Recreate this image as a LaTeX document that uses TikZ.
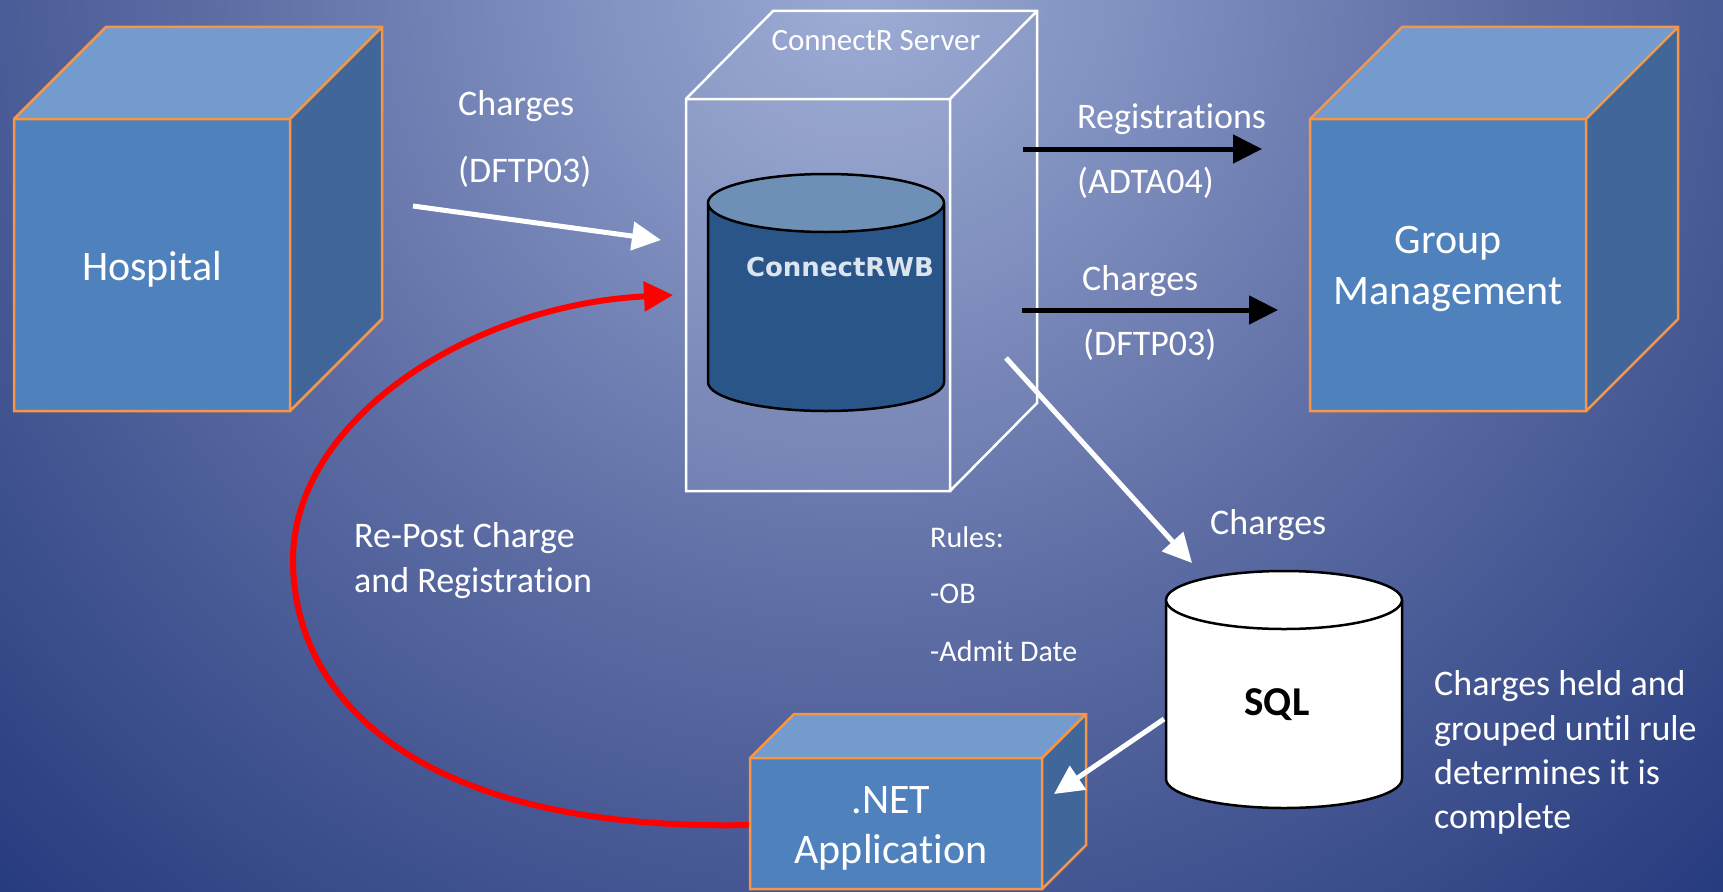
\documentclass[tikz,border=0pt]{standalone}
\usepackage{fontspec}
\setmainfont{Carlito}[Ligatures=NoCommon]
\newfontfamily\verdfont{DejaVu Sans}
\usetikzlibrary{arrows.meta}
\definecolor{bgA}{HTML}{9AAAD4}
\definecolor{bgB}{HTML}{5868A0}
\definecolor{bgC}{HTML}{273C7F}
\definecolor{cubefront}{HTML}{4F81BD}
\definecolor{cubetop}{HTML}{739BCD}
\definecolor{cubeside}{HTML}{41679A}
\definecolor{cubeedge}{HTML}{F79646}
\definecolor{dbbody}{HTML}{2A5589}
\definecolor{dbtop}{HTML}{6F90B6}
\definecolor{dbtext}{HTML}{DCE4F0}
\pgfdeclareradialshading{bgshade}{\pgfpoint{0bp}{0bp}}{color(0bp)=(bgA); color(13.5bp)=(bgB); color(24bp)=(bgC); color(25bp)=(bgC); color(50bp)=(bgC)}
\newcommand\cubeshape[5]{%
  \fill[cubefront] (#1,#2) rectangle (#3,#4);
  \fill[cubetop] (#1,#2) -- ({#1+#5},{#2-#5}) -- ({#3+#5},{#2-#5}) -- (#3,#2) -- cycle;
  \fill[cubeside] (#3,#2) -- ({#3+#5},{#2-#5}) -- ({#3+#5},{#4-#5}) -- (#3,#4) -- cycle;
  \draw[cubeline] (#1,#2) rectangle (#3,#4)
    (#1,#2) -- ({#1+#5},{#2-#5}) -- ({#3+#5},{#2-#5}) -- ({#3+#5},{#4-#5}) -- (#3,#4)
    (#3,#2) -- ({#3+#5},{#2-#5});
}
\tikzset{
  cubeline/.style={draw=cubeedge, line width=2.5pt, line join=miter},
  serverline/.style={draw=white, line width=2.5pt, line join=miter},
  lbl/.style={text=white, inner sep=0pt, font=\fontsize{36}{43}\selectfont},
  biglbl/.style={text=white, inner sep=0pt, font=\fontsize{42}{51}\selectfont},
  rulelbl/.style={text=white, inner sep=0pt, font=\fontsize{30}{36}\selectfont},
  whitearrow/.style={draw=white, line width=5pt, -{Triangle[length=29pt,width=28pt]}},
  blackarrow/.style={draw=black, line width=5pt, -{Triangle[length=29pt,width=28pt]}},
  redarrow/.style={draw=red, line width=6pt, -{Triangle[length=29pt,width=29pt]}},
  dbline/.style={draw=black, line width=2.5pt},
}
\begin{document}
\begin{tikzpicture}[x=1pt,y=-1pt]
\useasboundingbox (0,0) rectangle (1723,891);
% background
\begin{scope}
  \clip (0,0) rectangle (1723,891);
  \shade[shading=bgshade] (-440,-1320) rectangle (2160,1280);
\end{scope}

% red re-post curve (drawn before .NET cube)
\coordinate (redS) at (750,825);
\coordinate (redE) at (673,295);
\draw[redarrow] (redS) .. controls (420,832) and (293,700) .. (293,560)
  .. controls (293,420) and (470,305) .. (redE);

% Hospital cube
\cubeshape{14}{119}{290}{411}{92}
\node[biglbl, anchor=base] (hospital) at (152,280) {Hospital};

% Group Management cube
\cubeshape{1310}{119}{1586}{411}{92}
\node[biglbl, anchor=base] (group1) at (1448,253) {Group};
\node[biglbl, anchor=base] (group2) at (1448,304) {Management};

% .NET cube
\cubeshape{750}{758}{1042}{889}{44}
\node[biglbl, anchor=base] (net1) at (891,813) {.NET};
\node[biglbl, anchor=base] (net2) at (891,863) {Application};

% ConnectR server box
\fill[white, fill opacity=0.08] (686,99) rectangle (950,491);
\fill[white, fill opacity=0.05] (686,99) -- (773,11) -- (1037,11) -- (950,99) -- cycle;
\fill[white, fill opacity=0.03] (950,99) -- (1037,11) -- (1037,403) -- (950,491) -- cycle;
\draw[serverline] (686,99) rectangle (950,491)
  (686,99) -- (773,11) -- (1037,11) -- (1037,403) -- (950,491)
  (950,99) -- (1037,11);
\node[text=white, inner sep=0pt, font=\fontsize{31}{37}\selectfont, anchor=base] (server) at (876,51) {ConnectR Server};

% ConnectRWB cylinder
\fill[dbbody] (708,203) -- (708,382) arc[start angle=180, end angle=0, x radius=118, y radius=29] -- (944,203) -- cycle;
\draw[dbline] (708,203) -- (708,382) arc[start angle=180, end angle=0, x radius=118, y radius=29] -- (944,203);
\filldraw[fill=dbtop, dbline] (826,203) ellipse[x radius=118, y radius=29];
\node[text=dbtext, inner sep=0pt, font=\verdfont\bfseries\fontsize{26}{31}\selectfont] (cwb) at (840,267) {ConnectRWB};

% SQL cylinder
\fill[white] (1166,600) -- (1166,779) arc[start angle=180, end angle=0, x radius=118, y radius=29] -- (1402,600) -- cycle;
\draw[dbline] (1166,600) -- (1166,779) arc[start angle=180, end angle=0, x radius=118, y radius=29] -- (1402,600);
\filldraw[fill=white, dbline] (1284,600) ellipse[x radius=118, y radius=29];
\node[text=black, inner sep=0pt, font=\bfseries\fontsize{41}{49}\selectfont, anchor=base] (sql) at (1277,715) {SQL};

% arrows
\coordinate (a1s) at (413,206);
\coordinate (a1e) at (661,240);
\draw[whitearrow] (a1s) -- (a1e);
\coordinate (r1s) at (1023,149);
\coordinate (r1e) at (1262,149);
\draw[blackarrow] (r1s) -- (r1e);
\coordinate (c1s) at (1022,310);
\coordinate (c1e) at (1278,310);
\draw[blackarrow] (c1s) -- (c1e);
\coordinate (d1s) at (1006,358);
\coordinate (d1e) at (1192,563);
\draw[whitearrow] (d1s) -- (d1e);
\coordinate (n1s) at (1164,719);
\coordinate (n1e) at (1054,794);
\draw[whitearrow] (n1s) -- (n1e);

% labels
\node[lbl, anchor=base west] (chg1) at (458,115) {Charges};
\node[lbl, anchor=base west] (dft1) at (458,182) {(DFTP03)};
\node[lbl, anchor=base west] (reg) at (1077,128) {Registrations};
\node[lbl, anchor=base west] (adt) at (1077,193) {(ADTA04)};
\node[lbl, anchor=base west] (chg2) at (1082,290) {Charges};
\node[lbl, anchor=base west] (dft2) at (1083,355) {(DFTP03)};
\node[lbl, anchor=base west] (chg3) at (1210,534) {Charges};
\node[lbl, anchor=base west] (rp1) at (354,547) {Re-Post Charge};
\node[lbl, anchor=base west] (rp2) at (354,592) {and Registration};
\node[rulelbl, anchor=base west] (ru1) at (930,547) {Rules:};
\node[rulelbl, anchor=base west] (ru2) at (930,603) {-OB};
\node[rulelbl, anchor=base west] (ru3) at (930,661) {-Admit Date};
\node[lbl, anchor=base west] (h1) at (1434,695) {Charges held and};
\node[lbl, anchor=base west] (h2) at (1434,740) {grouped until rule};
\node[lbl, anchor=base west] (h3) at (1434,784) {determines it is};
\node[lbl, anchor=base west] (h4) at (1434,828) {complete};
\end{tikzpicture}
\end{document}
